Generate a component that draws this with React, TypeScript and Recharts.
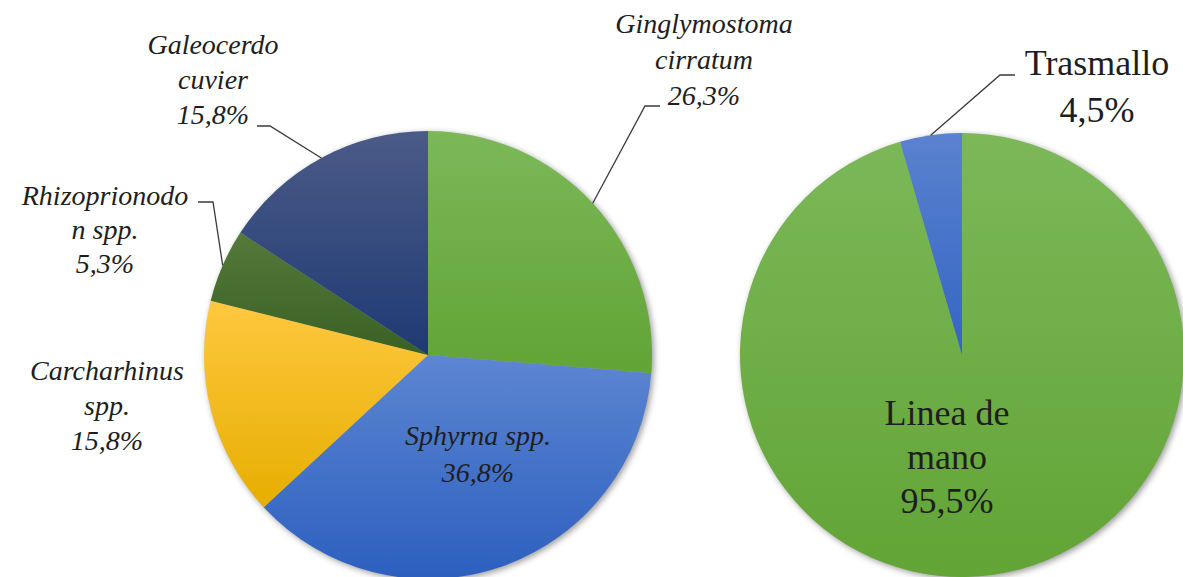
import { PieChart, Pie, Cell } from "recharts";

// species share of catch (left pie)
const speciesNames = [
  "Ginglymostoma cirratum",
  "Sphyrna spp.",
  "Carcharhinus spp.",
  "Rhizoprionodon spp.",
  "Galeocerdo cuvier",
];
const speciesShares = [26.3, 36.8, 15.8, 5.3, 15.8];
const speciesLabelLines = [
  ["Ginglymostoma", "cirratum"],
  ["Sphyrna spp."],
  ["Carcharhinus", "spp."],
  ["Rhizoprionodo", "n spp."],
  ["Galeocerdo", "cuvier"],
];

// fishing gear share (right pie)
const gearNames = ["Linea de mano", "Trasmallo"];
const gearShares = [95.5, 4.5];
const gearLabelLines = [["Linea de", "mano"], ["Trasmallo"]];

const speciesData = speciesNames.map((name, i) => ({ name, value: speciesShares[i] }));
const gearData = gearNames.map((name, i) => ({ name, value: gearShares[i] }));

const speciesGradients = [
  ["#7cb858", "#62a436"],
  ["#5d86d2", "#2c5fbf"],
  ["#ffc83f", "#e6ae00"],
  ["#537a3a", "#3a6024"],
  ["#4b5b88", "#1f3a73"],
];
const gearGradients = [
  ["#7cb858", "#62a436"],
  ["#5a82cf", "#3465c2"],
];

type LabelLayout = {
  tx: number;
  ty: number;
  lh: number;
  elbow?: [number, number];
  end?: [number, number];
};

// label placement relative to pie centre
const speciesLayout: LabelLayout[] = [
  { tx: 276, ty: -322, lh: 36, elbow: [217, -249], end: [232, -249] },
  { tx: 50, ty: 90, lh: 37 },
  { tx: -321, ty: 25, lh: 35 },
  { tx: -323, ty: -150, lh: 34, elbow: [-215, -153], end: [-230, -153] },
  { tx: -215, ty: -301, lh: 35, elbow: [-158, -229], end: [-171, -229] },
];
const gearLayout: LabelLayout[] = [
  { tx: -15, ty: 70, lh: 44 },
  { tx: 135, ty: -280, lh: 47, elbow: [38, -280], end: [53, -280] },
];

const RAD = Math.PI / 180;
const fmt = (v: number) => `${v.toFixed(1).replace(".", ",")}%`;

function makeLabel(
  lines: string[][],
  layouts: LabelLayout[],
  fontSize: number,
  italic: boolean
) {
  return (props: any) => {
    const { cx, cy, midAngle, outerRadius, index, value } = props;
    const lay = layouts[index];
    const ex = cx + outerRadius * Math.cos(-midAngle * RAD);
    const ey = cy + outerRadius * Math.sin(-midAngle * RAD);
    const rows = [...lines[index], fmt(value)];
    const x = cx + lay.tx;
    return (
      <g key={`lbl-${index}`}>
        {lay.elbow && lay.end && (
          <polyline
            points={`${ex},${ey} ${cx + lay.elbow[0]},${cy + lay.elbow[1]} ${cx + lay.end[0]},${cy + lay.end[1]}`}
            fill="none"
            stroke="#3a3a3a"
            strokeWidth={1.3}
          />
        )}
        <text
          x={x}
          y={cy + lay.ty}
          textAnchor="middle"
          style={{
            fontFamily: "Liberation Serif, serif",
            fontStyle: italic ? "italic" : "normal",
            fontSize,
          }}
          fill="#1e1e1e"
        >
          {rows.map((r, i) => (
            <tspan key={i} x={x} dy={i === 0 ? 0 : lay.lh}>
              {r}
            </tspan>
          ))}
        </text>
      </g>
    );
  };
}

export default function App() {
  return (
    <div style={{ position: "absolute", left: 0, top: 0, background: "#fff" }}>
      <PieChart width={1183} height={577} margin={{ top: 0, right: 0, bottom: 0, left: 0 }}>
        <defs>
          <filter id="pieBlur" x="-20%" y="-20%" width="140%" height="140%">
            <feGaussianBlur stdDeviation="3" />
          </filter>
          {speciesGradients.map(([a, b], i) => (
            <linearGradient key={`sg${i}`} id={`sg${i}`} x1="0" y1="0" x2="0" y2="1">
              <stop offset="0%" stopColor={a} />
              <stop offset="100%" stopColor={b} />
            </linearGradient>
          ))}
          {gearGradients.map(([a, b], i) => (
            <linearGradient key={`gg${i}`} id={`gg${i}`} x1="0" y1="0" x2="0" y2="1">
              <stop offset="0%" stopColor={a} />
              <stop offset="100%" stopColor={b} />
            </linearGradient>
          ))}
        </defs>

        {/* soft shadows */}
        <Pie
          data={speciesData}
          dataKey="value"
          cx={430}
          cy={357}
          outerRadius={224}
          startAngle={90}
          endAngle={-270}
          stroke="none"
          isAnimationActive={false}
        >
          {speciesData.map((_, i) => (
            <Cell key={i} fill="#000" fillOpacity={0.4} filter="url(#pieBlur)" />
          ))}
        </Pie>
        <Pie
          data={gearData}
          dataKey="value"
          cx={964}
          cy={357}
          outerRadius={222}
          startAngle={90}
          endAngle={-270}
          stroke="none"
          isAnimationActive={false}
        >
          {gearData.map((_, i) => (
            <Cell key={i} fill="#000" fillOpacity={0.4} filter="url(#pieBlur)" />
          ))}
        </Pie>

        <Pie
          data={speciesData}
          dataKey="value"
          cx={428}
          cy={355}
          outerRadius={224}
          startAngle={90}
          endAngle={-270}
          stroke="none"
          isAnimationActive={false}
          labelLine={false}
          label={makeLabel(speciesLabelLines, speciesLayout, 28, true)}
        >
          {speciesData.map((_, i) => (
            <Cell key={i} fill={`url(#sg${i})`} />
          ))}
        </Pie>
        <Pie
          data={gearData}
          dataKey="value"
          cx={962}
          cy={355}
          outerRadius={222}
          startAngle={90}
          endAngle={-270}
          stroke="none"
          isAnimationActive={false}
          labelLine={false}
          label={makeLabel(gearLabelLines, gearLayout, 36, false)}
        >
          {gearData.map((_, i) => (
            <Cell key={i} fill={`url(#gg${i})`} />
          ))}
        </Pie>
      </PieChart>
    </div>
  );
}
